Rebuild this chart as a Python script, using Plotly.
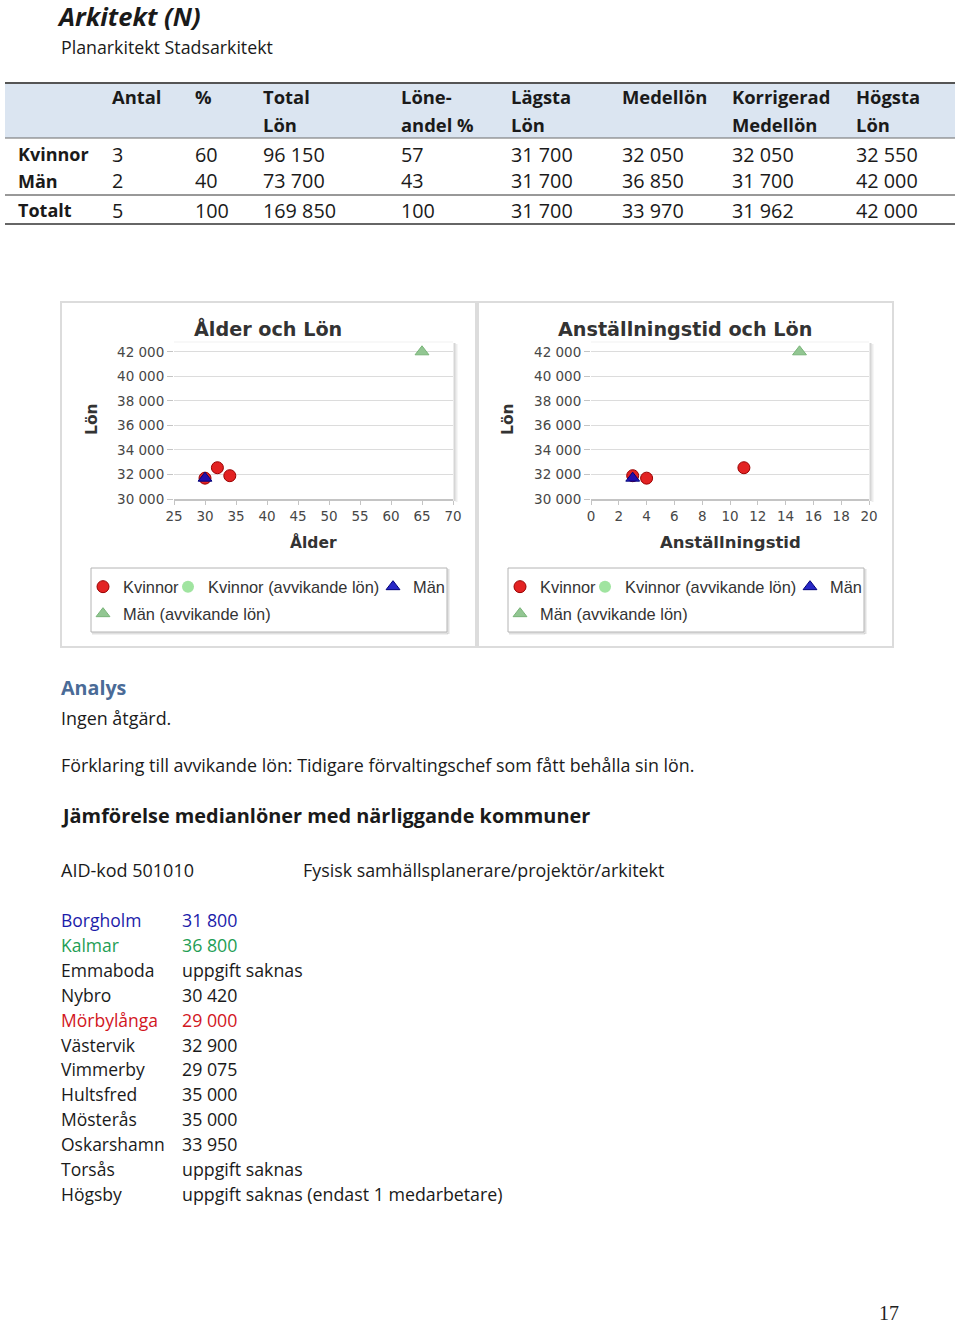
import plotly.graph_objects as go

W, H = 960, 1326

# ---------------- data ----------------
page_title = "Arkitekt (N)"
page_subtitle = "Planarkitekt Stadsarkitekt"

header_line1 = ["Antal", "%", "Total", "Löne-", "Lägsta", "Medellön", "Korrigerad", "Högsta"]
header_line2 = ["", "", "Lön", "andel %", "Lön", "", "Medellön", "Lön"]
row_labels = ["Kvinnor", "Män", "Totalt"]
antal = [3, 2, 5]
andel_pct = [60, 40, 100]
total_lon = [96150, 73700, 169850]
loneandel = [57, 43, 100]
lagsta_lon = [31700, 31700, 31700]
medellon = [32050, 36850, 33970]
korrigerad_medellon = [32050, 31700, 31962]
hogsta_lon = [32550, 42000, 42000]

series_names = ["Kvinnor", "Kvinnor (avvikande lön)", "Män", "Män (avvikande lön)"]
kvinnor_alder = [30, 32, 34]
kvinnor_tid = [4, 11, 3]
kvinnor_lon = [31700, 32550, 31900]
kvinnor_avv_alder = []
kvinnor_avv_tid = []
kvinnor_avv_lon = []
man_alder = [30]
man_tid = [3]
man_lon = [31700]
man_avv_alder = [65]
man_avv_tid = [15]
man_avv_lon = [42000]

chart_titles = ["Ålder och Lön", "Anställningstid och Lön"]
x_titles = ["Ålder", "Anställningstid"]
y_title = "Lön"

analys_heading = "Analys"
analys_text = "Ingen åtgärd."
forklaring_text = "Förklaring till avvikande lön: Tidigare förvaltingschef som fått behålla sin lön."
jamforelse_heading = "Jämförelse medianlöner med närliggande kommuner"
aid_kod = "AID-kod 501010"
aid_namn = "Fysisk samhällsplanerare/projektör/arkitekt"
kommuner = ["Borgholm", "Kalmar", "Emmaboda", "Nybro", "Mörbylånga", "Västervik",
            "Vimmerby", "Hultsfred", "Mösterås", "Oskarshamn", "Torsås", "Högsby"]
kommun_median = ["31 800", "36 800", "uppgift saknas", "30 420", "29 000", "32 900",
                 "29 075", "35 000", "35 000", "33 950", "uppgift saknas",
                 "uppgift saknas (endast 1 medarbetare)"]
page_number = "17"

# ---------------- helpers ----------------
BODY = "Open Sans"
CHART = "DejaVu Sans"
LEG = "Liberation Sans"


def fx(x):
    return x / W


def fy(y):
    return 1 - y / H


def fmt(v):
    return f"{v:,}".replace(",", " ")


annotations = []
shapes = []


def txt(x, y, s, size, color="#1a1a1a", family=BODY, bold=False, italic=False,
        xanchor="left", angle=0):
    if italic:
        s = f"<i>{s}</i>"
    if bold:
        s = f"<b>{s}</b>"
    annotations.append(dict(x=fx(x), y=fy(y), xref="paper", yref="paper", text=s,
                            showarrow=False, xanchor=xanchor, yanchor="middle",
                            textangle=angle,
                            font=dict(size=size, color=color, family=family)))


def hline(x0, x1, y, color, width):
    shapes.append(dict(type="line", xref="paper", yref="paper", x0=fx(x0), x1=fx(x1),
                       y0=fy(y), y1=fy(y), line=dict(color=color, width=width)))


def vline(x, y0, y1, color, width):
    shapes.append(dict(type="line", xref="paper", yref="paper", x0=fx(x), x1=fx(x),
                       y0=fy(y0), y1=fy(y1), line=dict(color=color, width=width)))


def rect(x0, y0, x1, y1, line_color=None, fill=None, width=1, layer="below"):
    shapes.append(dict(type="rect", xref="paper", yref="paper", x0=fx(x0), x1=fx(x1),
                       y0=fy(y1), y1=fy(y0), layer=layer,
                       line=dict(color=line_color or "rgba(0,0,0,0)", width=width if line_color else 0),
                       fillcolor=fill or "rgba(0,0,0,0)"))


# ---------------- page header ----------------
txt(59, 47, page_subtitle, 17.8, color="#1a1a1a")

# ---------------- table ----------------
rect(5, 83, 955, 138, fill="#dbe5f1")
hline(5, 955, 83, "#555555", 2)
hline(5, 955, 138, "#6b6b6b", 1)
hline(5, 955, 195, "#333333", 1)
hline(5, 955, 224, "#666666", 2)

col_x = [110, 193, 261, 399, 509, 620, 730, 854]
for cx, h1, h2 in zip(col_x, header_line1, header_line2):
    txt(cx, 97, h1, 18.4, bold=True)
    if h2:
        txt(cx, 124, h2, 18.4, bold=True)

row_y = [154, 181, 210]
columns = [antal, andel_pct, total_lon, loneandel, lagsta_lon, medellon,
           korrigerad_medellon, hogsta_lon]
for ri, (lab, ry) in enumerate(zip(row_labels, row_y)):
    txt(16, ry, lab, 18, bold=True)
    for cx, col in zip(col_x, columns):
        txt(cx, ry, fmt(col[ri]), 19.8)

# ---------------- charts ----------------
frames = [(61, 476), (478, 893)]
plot_x = [(174, 453, 25, 70, 5), (591, 869, 0, 20, 2)]
PY_TOP, PY_BOT = 342, 499
Y0, Y1 = 30000, 42800

for i, (f0, f1) in enumerate(frames):
    rect(f0, 302, f1, 647, line_color="#dcdcdc", fill="#ffffff", width=2)
    p0, p1 = plot_x[i][0], plot_x[i][1]
    vline(p1 + 1.5, PY_TOP + 1, PY_BOT + 2, "rgba(0,0,0,0.16)", 2)
    vline(p1 + 3.5, PY_TOP + 2, PY_BOT + 3, "rgba(0,0,0,0.07)", 2)
    hline(p0, p1, PY_TOP, "rgba(0,0,0,0.06)", 1)
    off = f0 - 61
    rect(91 + off, 568, 447 + off, 632, line_color="#b4b4b4", fill="#ffffff", width=1)
    hline(92 + off, 448 + off, 633.5, "rgba(0,0,0,0.12)", 2)
    vline(448.5 + off, 569, 634, "rgba(0,0,0,0.12)", 2)
    cx = [268, 685][i]
    txt(cx, 329, chart_titles[i], 19.2, color="#333333", family=CHART, bold=True, xanchor="center")
    txt([313, 730][i], 542, x_titles[i], [15.5, 16.5][i], color="#333333", family=CHART, bold=True,
        xanchor="center")
    txt([92, 508][i], 419, y_title, 15.5, color="#333333", family=CHART, bold=True,
        xanchor="center", angle=-90)

marker_styles = [
    dict(symbol="circle", size=12, color="rgba(225,16,16,0.92)", line=dict(color="#9a0000", width=1)),
    dict(symbol="circle", size=12, color="rgba(150,225,150,0.9)", line=dict(color="rgba(150,225,150,0.9)", width=0)),
    dict(symbol="triangle-up", size=12, color="rgba(10,10,190,0.88)", line=dict(color="#00007a", width=1)),
    dict(symbol="triangle-up", size=12, color="rgba(140,195,140,0.95)", line=dict(color="rgba(120,180,120,1)", width=1)),
]
legend_widths = [40, 160, None, None]

chart_x = [
    [kvinnor_alder, kvinnor_avv_alder, man_alder, man_avv_alder],
    [kvinnor_tid, kvinnor_avv_tid, man_tid, man_avv_tid],
]
chart_y = [kvinnor_lon, kvinnor_avv_lon, man_lon, man_avv_lon]

fig = go.Figure()
for c in range(2):
    xa = "x" if c == 0 else "x2"
    ya = "y" if c == 0 else "y2"
    for s in range(4):
        xs = chart_x[c][s] if chart_x[c][s] else [None]
        ys = chart_y[s] if chart_y[s] else [None]
        leg = ["legend", "legend2", "legend3", "legend4"][c * 2 + (1 if s == 3 else 0)]
        kw = {}
        if legend_widths[s] is not None:
            kw["legendwidth"] = legend_widths[s]
        fig.add_trace(go.Scatter(
            x=xs, y=ys, mode="markers", name=series_names[s],
            marker=marker_styles[s], xaxis=xa, yaxis=ya, legend=leg,
            cliponaxis=False, hoverinfo="skip", **kw))

common_x = dict(showgrid=False, showline=True, linecolor="#c4c4c4", linewidth=2,
                ticks="outside", ticklen=4, tickcolor="#c4c4c4", tickwidth=1,
                zeroline=False, fixedrange=True, automargin=False,
                tickfont=dict(family=CHART, size=13.5, color="#474747"))
common_y = dict(showgrid=True, gridcolor="#dcdcdc", gridwidth=1, showline=False,
                ticks="outside", ticklen=6, tickcolor="#c4c4c4", tickwidth=1,
                zeroline=False, fixedrange=True, automargin=False,
                range=[Y0, Y1], tick0=30000, dtick=2000,
                tickformat=",d",
                tickfont=dict(family=CHART, size=13.5, color="#474747"),
                domain=[fy(PY_BOT), fy(PY_TOP)])

leg_common = dict(orientation="h", xanchor="left", yanchor="middle",
                  bgcolor="rgba(0,0,0,0)", borderwidth=0,
                  font=dict(family=LEG, size=16.4, color="#333333"),
                  itemclick=False, itemdoubleclick=False)
sym_x = 103

fig.update_layout(
    width=W, height=H, autosize=False,
    margin=dict(l=0, r=0, t=0, b=0, autoexpand=False),
    paper_bgcolor="#ffffff", plot_bgcolor="rgba(0,0,0,0)",
    separators=", ",
    title=dict(text=f"<b><i>{page_title}</i></b>", x=fx(59), xanchor="left", xref="paper",
               y=fy(17.5), yref="paper", yanchor="middle",
               font=dict(family=BODY, size=25.5, color="#1a1a1a")),
    xaxis=dict(domain=[fx(plot_x[0][0]), fx(plot_x[0][1])], range=[plot_x[0][2], plot_x[0][3]],
               tick0=plot_x[0][2], dtick=plot_x[0][4], anchor="y", **common_x),
    yaxis=dict(anchor="x", **common_y),
    xaxis2=dict(domain=[fx(plot_x[1][0]), fx(plot_x[1][1])], range=[plot_x[1][2], plot_x[1][3]],
                tick0=plot_x[1][2], dtick=plot_x[1][4], anchor="y2", **common_x),
    yaxis2=dict(anchor="x2", **common_y),
    legend=dict(x=fx(sym_x - 20), y=fy(587), **leg_common),
    legend2=dict(x=fx(sym_x - 20), y=fy(614), **leg_common),
    legend3=dict(x=fx(sym_x - 20 + 417), y=fy(587), **leg_common),
    legend4=dict(x=fx(sym_x - 20 + 417), y=fy(614), **leg_common),
    showlegend=True,
)

# ---------------- lower text ----------------
txt(59, 687, analys_heading, 19.7, color="#4a6b97", bold=True)
txt(59, 718, analys_text, 17.9)
txt(59, 765, forklaring_text, 17.85)
txt(59, 815, jamforelse_heading, 19.9, bold=True)
txt(59, 870, aid_kod, 18)
txt(301, 870, aid_namn, 17.85)

kommun_colors = {"Borgholm": "#1c1caa", "Kalmar": "#1f9e55", "Mörbylånga": "#d2161e"}
for k, (name, val) in enumerate(zip(kommuner, kommun_median)):
    yy = 920 + k * 24.9
    col = kommun_colors.get(name, "#1a1a1a")
    txt(59, yy, name, 17.5, color=col)
    txt(180, yy, val, 17.8, color=col)

txt(889, 1313, page_number, 20, color="#222222", family="Liberation Serif", xanchor="center")

fig.update_layout(annotations=annotations, shapes=shapes)
fig.write_html("out.html", config={"displayModeBar": False},
               post_script="document.body.style.margin='0';document.body.style.overflow='hidden';")
